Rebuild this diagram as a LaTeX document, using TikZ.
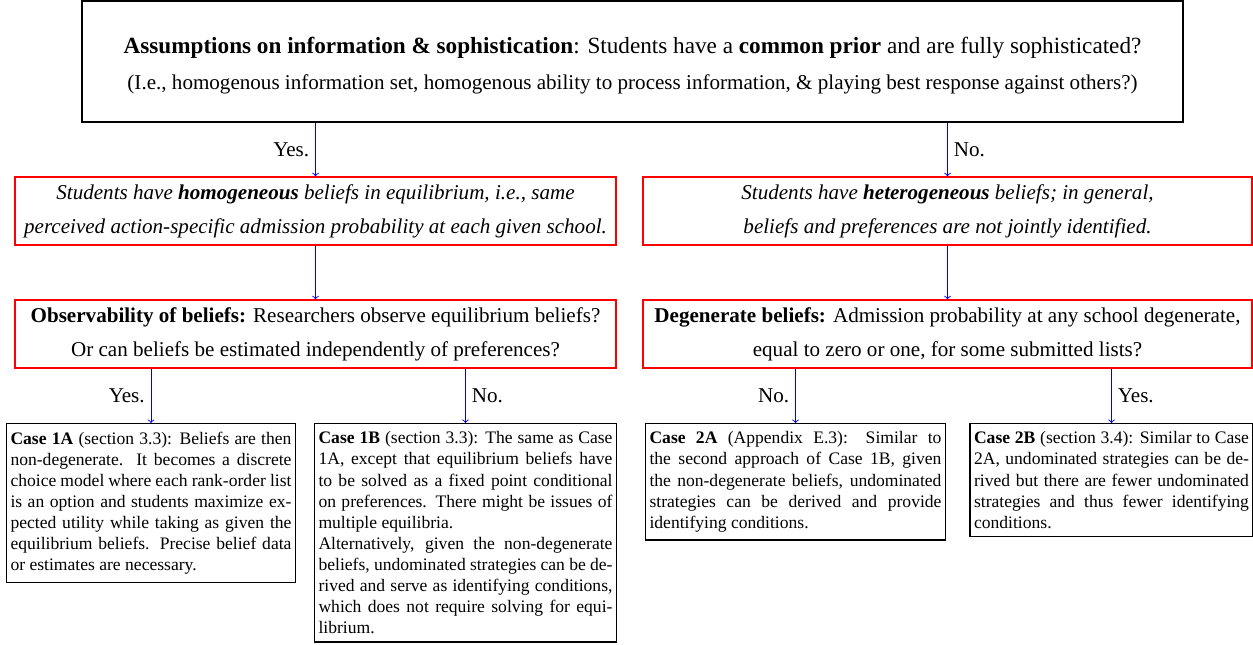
\documentclass[tikz,border=0pt]{standalone}
\usepackage{fontspec}
\setmainfont{Liberation Serif}
\begin{document}
\begin{tikzpicture}[x=0.02cm, y=-0.02cm,
    topbox/.style={draw, line width=0.8pt, minimum width=22.02cm, minimum height=2.42cm,
      align=center, font=\fontsize{12}{20.5}\selectfont},
    qbox/.style={draw=red, line width=0.8pt, minimum height=1.36cm, align=center,
      font=\fontsize{12}{19.5}\selectfont},
    casebox/.style={draw, line width=0.8pt, anchor=north, inner xsep=0.08cm, inner ysep=0.16cm,
      align=justify, font=\fontsize{10}{12}\selectfont},
    arr/.style={->, blue, line width=0.5pt},
    lbl/.style={text=black, font=\fontsize{12}{14}\selectfont}]
  \useasboundingbox (0,0) rectangle (1253,645);
  \node[topbox] (assume) at (632.5,61.5)
    {\rule{0pt}{13.6pt}{\fontsize{13.2}{20.5}\selectfont\textbf{Assumptions on information \& sophistication}: Students have a \textbf{common prior} and are fully sophisticated?}\\
     (I.e., homogenous information set, homogenous ability to process information, \& playing best response against others?)};
  \node[qbox, minimum width=12.02cm, font=\fontsize{12}{19.5}\selectfont\itshape] (homog) at (315.5,211)
    {Students have \textbf{homogeneous} beliefs in equilibrium, i.e., same\\
     perceived action-specific admission probability at each given school.};
  \node[qbox, minimum width=12.18cm, font=\fontsize{12}{19.5}\selectfont\itshape] (heterog) at (947.5,211)
    {Students have \textbf{heterogeneous} beliefs; in general,\\
     beliefs and preferences are not jointly identified.};
  \node[qbox, minimum width=12.02cm] (observ) at (315.5,334)
    {\textbf{Observability of beliefs:} Researchers observe equilibrium beliefs?\\
     Or can beliefs be estimated independently of preferences?};
  \node[qbox, minimum width=12.18cm] (degen) at (947.5,334)
    {\textbf{Degenerate beliefs:} Admission probability at any school degenerate,\\
     equal to zero or one, for some submitted lists?};
  \node[casebox, text width=5.62cm] (caseA) at (151,423)
    {\textbf{Case 1A} (section 3.3): Beliefs are then\linebreak
     non-degenerate.  It becomes a discrete\linebreak
     choice model where each rank-order list\linebreak
     is an option and students maximize ex-\linebreak
     pected utility while taking as given the\linebreak
     equilibrium beliefs.  Precise belief data\linebreak
     or estimates are necessary.};
  \node[casebox, text width=5.88cm] (caseB) at (465.5,423)
    {\textbf{Case 1B} (section 3.3): The same as Case\linebreak
     1A, except that equilibrium beliefs have\linebreak
     to be solved as a fixed point conditional\linebreak
     on preferences. There might be issues of\linebreak
     multiple equilibria.\par
     Alternatively, given the non-degenerate\linebreak
     beliefs, undominated strategies can be de-\linebreak
     rived and serve as identifying conditions,\linebreak
     which does not require solving for equi-\linebreak
     librium.};
  \node[casebox, text width=5.84cm] (caseC) at (795.5,423)
    {\textbf{Case 2A} (Appendix E.3):  Similar to\linebreak
     the second approach of Case 1B, given\linebreak
     the non-degenerate beliefs, undominated\linebreak
     strategies can be derived and provide\linebreak
     identifying conditions.};
  \node[casebox, text width=5.50cm] (caseD) at (1111.5,423)
    {\textbf{Case 2B} (section 3.4): Similar to Case\linebreak
     2A, undominated strategies can be de-\linebreak
     rived but there are fewer undominated\linebreak
     strategies and thus fewer identifying\linebreak
     conditions.};
  \draw[arr] (homog.north |- assume.south) -- node[left, lbl]{Yes.} (homog.north);
  \draw[arr] (heterog.north |- assume.south) -- node[right, lbl]{No.} (heterog.north);
  \draw[arr] (homog) -- (observ);
  \draw[arr] (heterog) -- (degen);
  \draw[arr] (caseA.north |- observ.south) -- node[left, lbl]{Yes.} (caseA.north);
  \draw[arr] (caseB.north |- observ.south) -- node[right, lbl]{No.} (caseB.north);
  \draw[arr] (caseC.north |- degen.south) -- node[left, lbl]{No.} (caseC.north);
  \draw[arr] (caseD.north |- degen.south) -- node[right, lbl]{Yes.} (caseD.north);
\end{tikzpicture}
\end{document}
